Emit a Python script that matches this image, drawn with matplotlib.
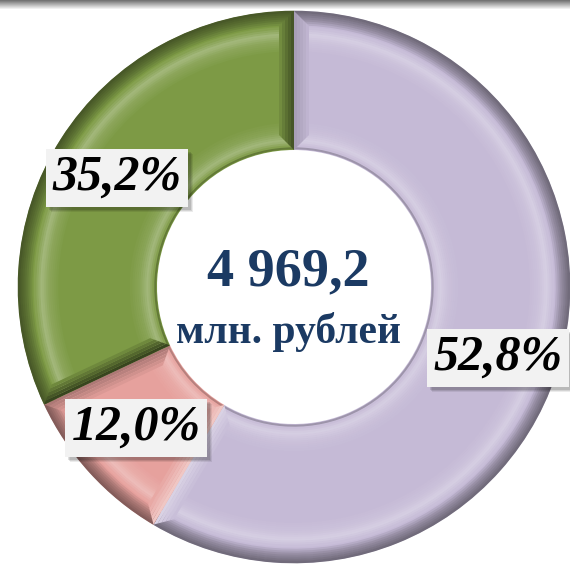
import matplotlib
matplotlib.use("Agg")
import matplotlib.pyplot as plt
import numpy as np
from matplotlib.patches import Wedge, Rectangle, Polygon

# data: slice sizes as drawn in the picture (the printed labels differ)
shares = [58.5, 9.5, 32.0]
labels = ["52,8%", "12,0%", "35,2%"]
colors = ["#C5BAD6", "#E6A19D", "#7D9A45"]
total_text = "4 969,2"
unit_text = "млн. рублей"

# layout (pixel space, y up)
W, H = 570, 564
cx, cy = 294, 277
r_out, ring = 276, 139
label_pos = [(498, 206), (136, 136), (117, 386)]
# shade of the bevel on each slice's (theta1, theta2) edges
edge_shade = [(0.35, -0.15), (-0.25, 0.4), (-0.45, -0.55)]

# radial bevel profile: fraction of outer radius -> lighten(+)/darken(-)
prof_r = [0.50, 0.51, 0.53, 0.56, 0.60, 0.85, 0.89, 0.915, 0.94, 0.97, 1.00]
prof_f = [-0.35, 0.05, 0.30, 0.10, 0.0, 0.0, 0.12, 0.30, 0.05, -0.25, -0.45]


def shade(color, f):
    c = np.array(matplotlib.colors.to_rgb(color))
    if f >= 0:
        return tuple(np.clip(c + (1 - c) * f, 0, 1))
    return tuple(np.clip(c * (1 + f), 0, 1))


fig = plt.figure(figsize=(W / 100, H / 100), dpi=100)
ax = fig.add_axes([0, 0, 1, 1])

wedges, _ = ax.pie(
    shares,
    colors=colors,
    startangle=90,
    counterclock=False,
    center=(cx, cy),
    radius=r_out,
    wedgeprops=dict(width=ring, edgecolor="none"),
)

r_in = r_out - ring
edges = np.linspace(0.5, 1.0, 70)
for w, col, es in zip(wedges, colors, edge_shade):
    t1, t2 = w.theta1, w.theta2
    for a, b in zip(edges[:-1], edges[1:]):
        f = np.interp((a + b) / 2, prof_r, prof_f)
        if abs(f) < 0.01:
            continue
        ax.add_patch(Wedge((cx, cy), r_out * b + 0.3, t1, t2,
                           width=r_out * (b - a) + 0.6, color=shade(col, f),
                           lw=0))
    # bevel strips along the radial edges
    for t, sgn, f0 in ((t1, 1, es[0]), (t2, -1, es[1])):
        rad = np.deg2rad(t)
        u = np.array([np.cos(rad), np.sin(rad)])
        n = sgn * np.array([-np.sin(rad), np.cos(rad)])
        c0 = np.array([cx, cy])
        for k in range(5):
            d0, d1 = 3 * k, 3 * (k + 1)
            pts = [c0 + (r_in + d0) * u + d0 * n,
                   c0 + (r_out - d0) * u + d0 * n,
                   c0 + (r_out - d1) * u + d1 * n,
                   c0 + (r_in + d1) * u + d1 * n]
            ax.add_patch(Polygon(pts, closed=True, lw=0,
                                 color=shade(col, f0 * (1 - k / 5))))

# top grey bar
grad = np.linspace(0.45, 1.0, 10).reshape(-1, 1)
ax.imshow(grad, cmap="gray", vmin=0, vmax=1, extent=(0, W, H - 10, H),
          aspect="auto", zorder=5)

serif = ["Liberation Serif", "DejaVu Serif"]
ax.text(cx - 6, 292, total_text, ha="center", va="center", fontsize=39,
        fontweight="bold", family=serif, color="#1B3A63")
ax.text(cx - 5, 232, unit_text, ha="center", va="center", fontsize=30,
        fontweight="bold", family=serif, color="#1B3A63")

texts = []
for (x, y), lab in zip(label_pos, labels):
    t = ax.text(x, y, lab, ha="center", va="center", fontsize=36,
                fontweight="bold", fontstyle="italic", family=serif,
                color="black",
                bbox=dict(boxstyle="square,pad=0.12", fc="#F2F2F2", ec="none"),
                zorder=7)
    texts.append(t)

ax.set_xlim(0, W)
ax.set_ylim(0, H)
ax.set_aspect("equal")
ax.axis("off")

# drop shadows behind label boxes
fig.canvas.draw()
inv = ax.transData.inverted()
for t in texts:
    bb = t.get_bbox_patch().get_window_extent()
    (x0, y0), (x1, y1) = inv.transform([[bb.x0, bb.y0], [bb.x1, bb.y1]])
    for k, al in ((5, 0.08), (4, 0.1), (3, 0.12)):
        ax.add_patch(Rectangle((x0 + k, y0 - k), x1 - x0, y1 - y0,
                               fc="black", ec="none", alpha=al, zorder=6))

fig.savefig("out.png", dpi=100, facecolor="white")
